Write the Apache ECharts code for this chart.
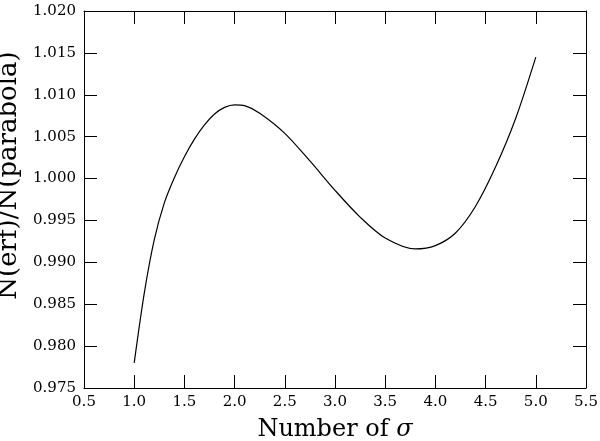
<!DOCTYPE html>
<html>
<head>
<meta charset="utf-8">
<script src="https://cdn.jsdelivr.net/npm/echarts@6/dist/echarts.min.js"></script>
<style>
  html, body { margin: 0; padding: 0; background: #fff; }
  #chart { width: 600px; height: 441px; }
</style>
</head>
<body>
<div id="chart"></div>
<script>
// number of sigma vs ratio
const sigma = [1.0, 1.1, 1.2, 1.3, 1.4, 1.5, 1.6, 1.7, 1.8, 1.9, 2.0, 2.1, 2.25, 2.5, 2.75, 3.0, 3.25, 3.5, 3.8, 4.0, 4.2, 4.4, 4.6, 4.8, 5.0]
const ratio = [0.9780, 0.9863, 0.9927, 0.9971, 1.0001, 1.0026, 1.0047, 1.0064, 1.0077, 1.0085, 1.0088, 1.0087, 1.0078, 1.0054, 1.0021, 0.9986, 0.9954, 0.9929, 0.9916, 0.9920, 0.9935, 0.9967, 1.0014, 1.0072, 1.0145]

const font = 'DejaVu Serif'

const chart = echarts.init(document.getElementById('chart'))

const tick = {
  show: true,
  inside: true,
  length: 13,
  lineStyle: { color: '#000', width: 1 }
}
const line = { show: true, onZero: false, lineStyle: { color: '#000', width: 1 } }

chart.setOption({
  animation: false,
  grid: { left: 84, right: 14, top: 11, bottom: 53, outerBoundsMode: 'none', containLabel: false },
  xAxis: [{
    type: 'value',
    min: 0.5,
    max: 5.5,
    interval: 0.5,
    name: 'Number of {i|σ}',
    nameLocation: 'middle',
    nameGap: 30,
    nameTextStyle: {
      fontFamily: font, fontSize: 24, color: '#000',
      rich: { i: { fontFamily: font, fontSize: 24, fontStyle: 'italic', color: '#000' } }
    },
    axisLine: line,
    axisTick: tick,
    splitLine: { show: false },
    axisLabel: {
      fontFamily: font, fontSize: 15, color: '#000', margin: 7,
      formatter: (v) => v.toFixed(1)
    }
  }, {
    type: 'value',
    position: 'top',
    min: 0.5,
    max: 5.5,
    interval: 0.5,
    axisLine: line,
    axisTick: tick,
    splitLine: { show: false },
    axisLabel: { show: false }
  }],
  yAxis: [{
    type: 'value',
    min: 0.975,
    max: 1.020,
    interval: 0.005,
    name: 'N(erf)/N(parabola)',
    nameLocation: 'middle',
    nameGap: 53,
    nameTextStyle: { fontFamily: font, fontSize: 26, color: '#000', padding: [0, 0, 0, 48] },
    axisLine: line,
    axisTick: tick,
    splitLine: { show: false },
    axisLabel: {
      fontFamily: font, fontSize: 15, color: '#000', margin: 8,
      formatter: (v) => v.toFixed(3)
    }
  }, {
    type: 'value',
    position: 'right',
    min: 0.975,
    max: 1.020,
    interval: 0.005,
    axisLine: line,
    axisTick: tick,
    splitLine: { show: false },
    axisLabel: { show: false }
  }],
  series: [{
    type: 'line',
    data: sigma.map((s, i) => [s, ratio[i]]),
    smooth: 0.3,
    showSymbol: false,
    lineStyle: { color: '#000', width: 1.2 }
  }]
})
</script>
</body>
</html>
